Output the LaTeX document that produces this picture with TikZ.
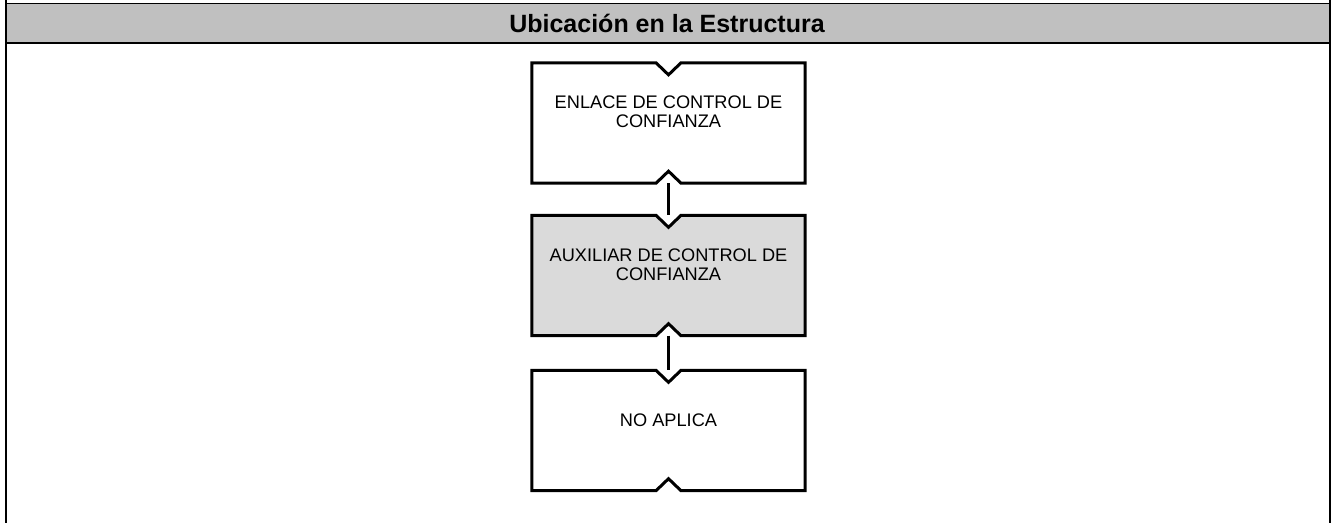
\documentclass[tikz,border=0pt]{standalone}
\usepackage{fontspec}
\setmainfont{Liberation Sans}
\usetikzlibrary{calc}
\definecolor{headgray}{HTML}{C0C0C0}
\definecolor{boxgray}{HTML}{DADADA}
\tikzset{
  x=1pt, y=-1pt,
  frameline/.style={line width=2.5pt, black},
  boxarea/.style={rectangle, draw=none, minimum width=273pt, minimum height=120pt, inner sep=0pt},
  boxline/.style={line width=3pt, black, line join=miter},
  boxtext/.style={align=center, inner sep=0pt, font=\fontsize{18.2}{19}\selectfont},
  connector/.style={line width=3pt, black},
  title/.style={font=\bfseries\fontsize{25}{28}\selectfont, inner sep=0pt}
}
\newcommand\notchbox[2]{%
  \filldraw[boxline, fill=#2]
    (#1.north west) -- ($(#1.north)+(-12.5,0)$) -- ($(#1.north)+(0,12)$) -- ($(#1.north)+(12.5,0)$)
    -- (#1.north east) -- (#1.south east)
    -- ($(#1.south)+(12.5,0)$) -- ($(#1.south)+(0,-12)$) -- ($(#1.south)+(-12.5,0)$)
    -- (#1.south west) -- cycle;}
\begin{document}
\begin{tikzpicture}
\useasboundingbox (0,0) rectangle (1331,523);
% header band
\fill[headgray] (6,3.5) rectangle (1329.5,42.8);
\draw[line width=1.2pt] (6,3.5) -- (1329.5,3.5);
\draw[frameline] (6,42.8) -- (1329.5,42.8);
\draw[line width=2pt] (6,0) -- (6,523);
\draw[frameline] (1329.8,0) -- (1329.8,523);
\node[title] (head) at (667,23.5) {Ubicación en la Estructura};
% boxes
\node[boxarea] (b1) at (668.5,123) {};
\node[boxarea] (b2) at (668.5,275.5) {};
\node[boxarea] (b3) at (668.5,430.5) {};
\notchbox{b1}{white}
\notchbox{b2}{boxgray}
\notchbox{b3}{white}
\node[boxtext] (t1) at (668.5,112) {ENLACE DE CONTROL DE\\CONFIANZA};
\node[boxtext] (t2) at (668.5,265) {AUXILIAR DE CONTROL DE\\CONFIANZA};
\node[boxtext] (t3) at (668.5,420) {NO APLICA};
% connectors
\draw[connector] (b1.south) -- (b2.north);
\draw[connector] (b2.south) -- (b3.north);
\end{tikzpicture}
\end{document}
